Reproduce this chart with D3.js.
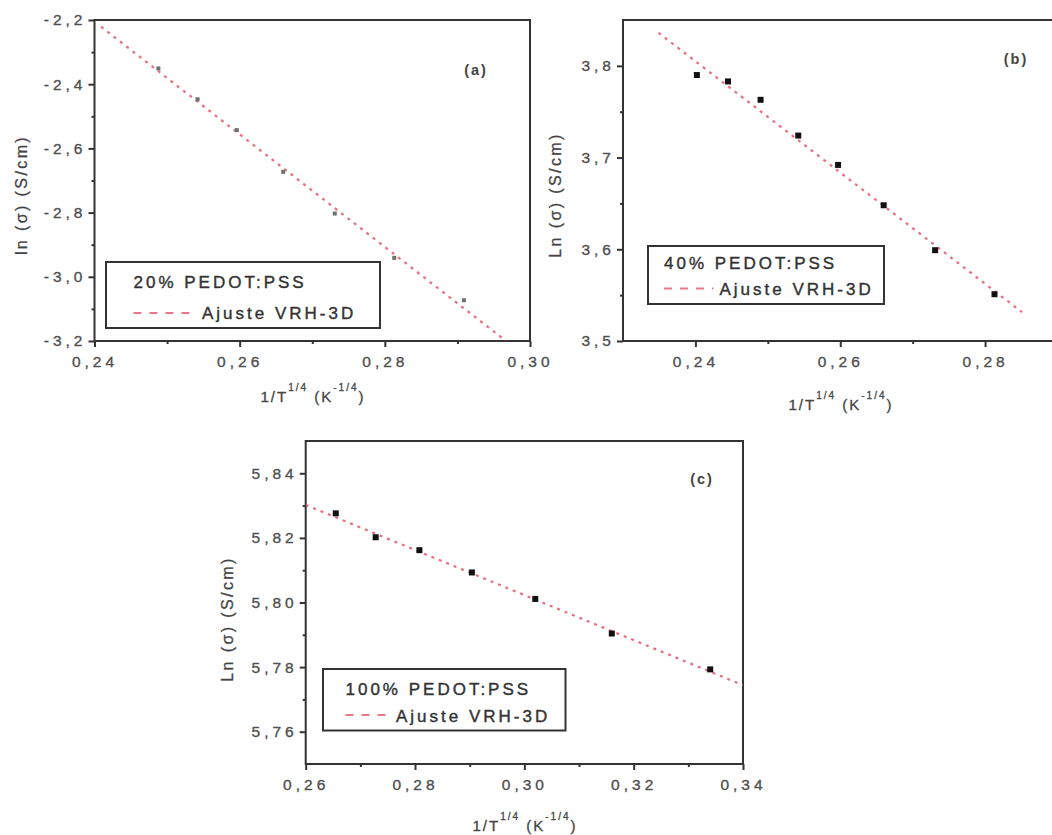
<!DOCTYPE html>
<html>
<head>
<meta charset="utf-8">
<script src="https://cdn.jsdelivr.net/npm/d3@7"></script>
<style>
body { margin: 0; background: #fff; }
svg { display: block; font-family: Arial, "Liberation Sans", sans-serif; }
</style>
</head>
<body>
<script>
// panel (a) 20% PEDOT:PSS
var xA = [0.2488, 0.2542, 0.2596, 0.2660, 0.2731, 0.2813, 0.2909];
var yA = [-2.351, -2.447, -2.543, -2.673, -2.803, -2.941, -3.073];
var fitXA = [0.2409, 0.2967];
var fitYA = [-2.221, -3.2];
var xTicksA = [0.24, 0.26, 0.28, 0.30];
var xMinorA = [0.25, 0.27, 0.29];
var yTicksA = [-2.2, -2.4, -2.6, -2.8, -3.0, -3.2];
var yMinorA = [-2.3, -2.5, -2.7, -2.9, -3.1];

// panel (b) 40% PEDOT:PSS
var xB = [0.2402, 0.2445, 0.2490, 0.2542, 0.2597, 0.2660, 0.2731, 0.2813];
var yB = [3.790, 3.783, 3.763, 3.724, 3.692, 3.648, 3.599, 3.551];
var fitXB = [0.2349, 0.2851];
var fitYB = [3.836, 3.5315];
var xTicksB = [0.24, 0.26, 0.28];
var xMinorB = [0.25, 0.27];
var yTicksB = [3.5, 3.6, 3.7, 3.8];
var yMinorB = [3.55, 3.65, 3.75];

// panel (c) 100% PEDOT:PSS
var xC = [0.2655, 0.2728, 0.2808, 0.2904, 0.3020, 0.3160, 0.3340];
var yC = [5.8276, 5.8202, 5.8162, 5.8093, 5.8011, 5.7904, 5.7793];
var fitXC = [0.26, 0.34];
var fitYC = [5.8302, 5.7744];
var xTicksC = [0.26, 0.28, 0.30, 0.32, 0.34];
var xMinorC = [0.27, 0.29, 0.31, 0.33];
var yTicksC = [5.76, 5.78, 5.80, 5.82, 5.84];
var yMinorC = [5.77, 5.79, 5.81, 5.83];

var legendA = ['20% PEDOT:PSS', 'Ajuste VRH-3D'];
var legendB = ['40% PEDOT:PSS', 'Ajuste VRH-3D'];
var legendC = ['100% PEDOT:PSS', 'Ajuste VRH-3D'];

var svg = d3.select('body').append('svg')
    .attr('width', 1052)
    .attr('height', 835);

var panels = [
    {id: 'a', xs: xA, ys: yA, fx: fitXA, fy: fitYA, xTicks: xTicksA, xMinor: xMinorA, yTicks: yTicksA, yMinor: yMinorA,
     xDom: [0.24, 0.30], yDom: [-3.2, -2.2], xDec: 2, yDec: 1, legend: legendA, tag: '(a)', yTitle: 'ln (σ) (S/cm)',
     left: 94.5, right: 530, top: 20, bottom: 341, mark: 4, markColor: '#707070',
     box: [106, 262, 380, 328], leg: [133.5, 288, 313, 202, 319], tagPos: [476, 75],
     yTitlePos: [27, 195], xTitlePos: [313, 402]},
    {id: 'b', xs: xB, ys: yB, fx: fitXB, fy: fitYB, xTicks: xTicksB, xMinor: xMinorB, yTicks: yTicksB, yMinor: yMinorB,
     xDom: [0.23, 0.29], yDom: [3.5, 3.85], xDec: 2, yDec: 1, legend: legendB, tag: '(b)', yTitle: 'Ln (σ) (S/cm)',
     left: 623, right: 1057.5, top: 20, bottom: 341, mark: 6, markColor: '#111',
     box: [648, 246, 884, 304], leg: [664, 268.5, 288.5, 719.5, 295], tagPos: [1016, 63.5],
     yTitlePos: [561, 195], xTitlePos: [841, 410]},
    {id: 'c', xs: xC, ys: yC, fx: fitXC, fy: fitYC, xTicks: xTicksC, xMinor: xMinorC, yTicks: yTicksC, yMinor: yMinorC,
     xDom: [0.26, 0.34], yDom: [5.75, 5.85], xDec: 2, yDec: 2, legend: legendC, tag: '(c)', yTitle: 'Ln (σ) (S/cm)',
     left: 305.7, right: 743, top: 441, bottom: 764, mark: 6, markColor: '#111',
     box: [323, 669, 565.5, 730.5], leg: [345.5, 695, 715, 396, 721.5], tagPos: [702, 484],
     yTitlePos: [233, 619], xTitlePos: [525, 831]}
];

var fit = '#e2566b';

panels.forEach(function (p) {
    var x = d3.scaleLinear().domain(p.xDom).range([p.left, p.right]);
    var y = d3.scaleLinear().domain(p.yDom).range([p.bottom, p.top]);
    var fmtX = function (v) { return v.toFixed(p.xDec).replace('.', ','); };
    var fmtY = function (v) { return v.toFixed(p.yDec).replace('.', ','); };
    var g = svg.append('g');

    g.append('clipPath').attr('id', 'clip-' + p.id)
        .append('rect')
        .attr('x', p.left).attr('y', p.top)
        .attr('width', p.right - p.left).attr('height', p.bottom - p.top);

    // minor ticks
    g.append('g').attr('transform', 'translate(0,' + p.bottom + ')')
        .call(d3.axisBottom(x).tickValues(p.xMinor).tickSize(3).tickSizeOuter(0).tickFormat(''));
    g.append('g').attr('transform', 'translate(' + p.left + ',0)')
        .call(d3.axisLeft(y).tickValues(p.yMinor).tickSize(3).tickSizeOuter(0).tickFormat(''));

    // major ticks + labels
    g.append('g').attr('class', 'xax').attr('transform', 'translate(0,' + p.bottom + ')')
        .call(d3.axisBottom(x).tickValues(p.xTicks).tickSize(6).tickSizeOuter(0).tickPadding(8.5).tickFormat(fmtX));
    g.append('g').attr('class', 'yax').attr('transform', 'translate(' + p.left + ',0)')
        .call(d3.axisLeft(y).tickValues(p.yTicks).tickSize(6).tickSizeOuter(0).tickPadding(2).tickFormat(fmtY));

    g.selectAll('.domain').remove();
    g.selectAll('.tick line').attr('stroke', '#333').attr('stroke-width', 2);
    g.selectAll('.tick text')
        .attr('font-family', 'Arial, "Liberation Sans", sans-serif')
        .attr('font-size', 15.5)
        .attr('letter-spacing', 4)
        .attr('fill', '#505050')
        .attr('stroke', '#505050')
        .attr('stroke-width', 0.35);
    g.selectAll('.xax .tick text').attr('dx', 0);

    // frame
    g.append('rect')
        .attr('x', p.left).attr('y', p.top)
        .attr('width', p.right - p.left).attr('height', p.bottom - p.top)
        .attr('fill', 'none').attr('stroke', '#333').attr('stroke-width', 2);

    // fit line
    var pts = p.fx.map(function (v, i) { return [v, p.fy[i]]; });
    g.append('path')
        .attr('clip-path', 'url(#clip-' + p.id + ')')
        .attr('d', d3.line().x(function (d) { return x(d[0]); }).y(function (d) { return y(d[1]); })(pts))
        .attr('fill', 'none')
        .attr('stroke', fit)
        .attr('stroke-width', 2.2)
        .attr('stroke-opacity', 0.85)
        .attr('stroke-dasharray', '3,5');

    // data points
    g.selectAll('rect.pt')
        .data(p.xs.map(function (v, i) { return [v, p.ys[i]]; }))
        .enter().append('rect')
        .attr('class', 'pt')
        .attr('x', function (d) { return x(d[0]) - p.mark / 2; })
        .attr('y', function (d) { return y(d[1]) - p.mark / 2; })
        .attr('width', p.mark)
        .attr('height', p.mark)
        .attr('fill', p.markColor);

    // legend
    g.append('rect')
        .attr('x', p.box[0]).attr('y', p.box[1])
        .attr('width', p.box[2] - p.box[0]).attr('height', p.box[3] - p.box[1])
        .attr('fill', '#fff').attr('stroke', '#333').attr('stroke-width', 2);
    g.append('text')
        .attr('x', p.leg[0]).attr('y', p.leg[1])
        .attr('font-size', 17).attr('letter-spacing', 3).attr('fill', '#333')
        .attr('stroke', '#333').attr('stroke-width', 0.4)
        .text(p.legend[0]);
    g.append('line')
        .attr('x1', p.leg[0]).attr('x2', p.leg[3] - 6)
        .attr('y1', p.leg[2]).attr('y2', p.leg[2])
        .attr('stroke', fit).attr('stroke-width', 2.2).attr('stroke-opacity', 0.8)
        .attr('stroke-dasharray', '8,8');
    g.append('text')
        .attr('x', p.leg[3]).attr('y', p.leg[4])
        .attr('font-size', 17).attr('letter-spacing', 3).attr('fill', '#333')
        .attr('stroke', '#333').attr('stroke-width', 0.4)
        .text(p.legend[1]);

    // panel tag
    g.append('text')
        .attr('x', p.tagPos[0]).attr('y', p.tagPos[1])
        .attr('text-anchor', 'middle')
        .attr('font-size', 14.5).attr('font-weight', 'bold').attr('letter-spacing', 2)
        .attr('fill', '#444')
        .text(p.tag);

    // axis titles
    g.append('text')
        .attr('transform', 'translate(' + p.yTitlePos[0] + ',' + p.yTitlePos[1] + ') rotate(-90)')
        .attr('text-anchor', 'middle')
        .attr('font-size', 16).attr('letter-spacing', 2.4).attr('fill', '#444')
        .attr('stroke', '#444').attr('stroke-width', 0.3)
        .text(p.yTitle);

    var xt = g.append('text')
        .attr('x', p.xTitlePos[0]).attr('y', p.xTitlePos[1])
        .attr('text-anchor', 'middle')
        .attr('font-size', 15).attr('letter-spacing', 2).attr('fill', '#444')
        .attr('stroke', '#444').attr('stroke-width', 0.3);
    xt.append('tspan').text('1/T');
    xt.append('tspan').attr('font-size', 10).attr('dy', -11).text('1/4');
    xt.append('tspan').attr('dy', 11).text(' (K');
    xt.append('tspan').attr('font-size', 10).attr('dy', -11).text('-1/4');
    xt.append('tspan').attr('dy', 11).text(')');
});
</script>
</body>
</html>
